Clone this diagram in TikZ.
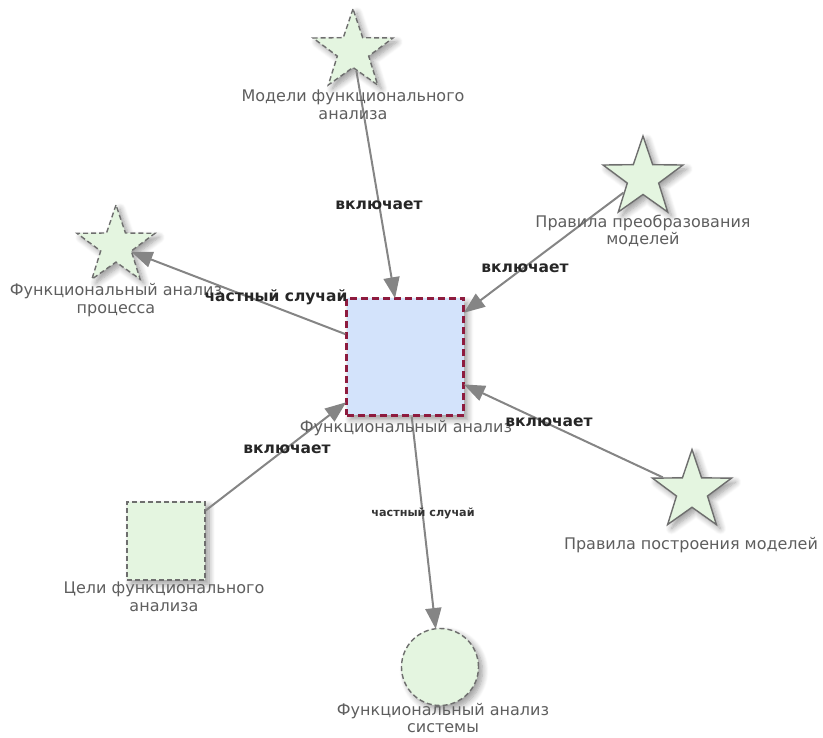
\documentclass[tikz,border=0pt]{standalone}
\usepackage{fontspec}
\setmainfont{DejaVu Sans}
\usetikzlibrary{shapes.geometric,arrows.meta,calc,shadows.blur}

\definecolor{leaf}{HTML}{E4F5E0}
\definecolor{sky}{HTML}{D3E3FB}
\definecolor{wine}{HTML}{8E1B3E}
\definecolor{edgegray}{HTML}{858585}
\definecolor{rimgray}{HTML}{6E6E6E}
\definecolor{captiongray}{HTML}{5E5E5E}

\tikzset{
  softshadow/.style={blur shadow={shadow xshift=4pt, shadow yshift=-4pt,
      shadow blur radius=6pt, shadow blur steps=8, shadow opacity=40}},
  starnode/.style={shape=star, star points=5, star point ratio=2.55,
      inner sep=0pt, minimum size=#1, fill=leaf, draw=rimgray,
      line width=1.4pt, softshadow},
  dashedrim/.style={dash pattern=on 5pt off 3pt},
  boxnode/.style={shape=rectangle, inner sep=0pt, minimum size=#1,
      fill=leaf, draw=rimgray, line width=1.4pt, dashedrim, softshadow},
  roundnode/.style={shape=circle, inner sep=0pt, minimum size=#1,
      fill=leaf, draw=rimgray, line width=1.4pt, dashedrim, softshadow},
  hubnode/.style={shape=rectangle, inner sep=0pt, minimum size=117pt,
      fill=sky, draw=wine, line width=2.4pt, dash pattern=on 7pt off 4pt,
      softshadow},
  caption/.style={text=captiongray, font=\fontsize{16}{17.5}\selectfont,
      align=center, inner sep=0pt},
  relation/.style={text=black!85, font=\bfseries\fontsize{15.5}{18}\selectfont,
      inner sep=0pt},
  smallrelation/.style={text=black!80, font=\bfseries\fontsize{11.2}{13}\selectfont,
      inner sep=0pt},
  link/.style={draw=edgegray, line width=2pt,
      -{Triangle[length=21pt,width=16pt]}, shorten >=-1pt},
}

\begin{document}
\begin{tikzpicture}[x=1pt,y=-1pt]
  \useasboundingbox (0,0) rectangle (823,738);

  % concept nodes
  \node[hubnode] (hub) at (405,357) {};
  \node[starnode=84pt, dashedrim] (models) at (353,51) {};
  \node[starnode=84pt] (transform) at (643,178) {};
  \node[starnode=82pt, dashedrim] (process) at (116,246) {};
  \node[boxnode=78pt] (goals) at (166,541) {};
  \node[roundnode=77pt] (system) at (440,667) {};
  \node[starnode=83pt] (build) at (692,491) {};

  % connectors
  \draw[link] (models) -- (hub);
  \draw[link] (transform) -- (hub);
  \draw[link] (hub) -- (process);
  \draw[link] (goals) -- (hub);
  \draw[link] (build) -- (hub);
  \draw[link] (hub) -- (system);

  % captions under the nodes
  \node[caption] (hubcap) at (406,428) {Функциональный анализ};
  \node[caption] (modelscap) at (353,105) {Модели функционального\\анализа};
  \node[caption] (transformcap) at (643,231) {Правила преобразования\\моделей};
  \node[caption] (processcap) at (116,300) {Функциональный анализ\\процесса};
  \node[caption] (goalscap) at (164,597) {Цели функционального\\анализа};
  \node[caption] (systemcap) at (443,718) {Функциональный анализ\\системы};
  \node[caption] (buildcap) at (691,545) {Правила построения моделей};

  % relation labels
  \node[relation] (r1) at (379,205) {включает};
  \node[relation] (r2) at (525,268) {включает};
  \node[relation] (r3) at (276,297) {частный случай};
  \node[relation] (r4) at (287,449) {включает};
  \node[relation] (r5) at (549,422) {включает};
  \node[smallrelation] (r6) at (423,513) {частный случай};
\end{tikzpicture}
\end{document}
